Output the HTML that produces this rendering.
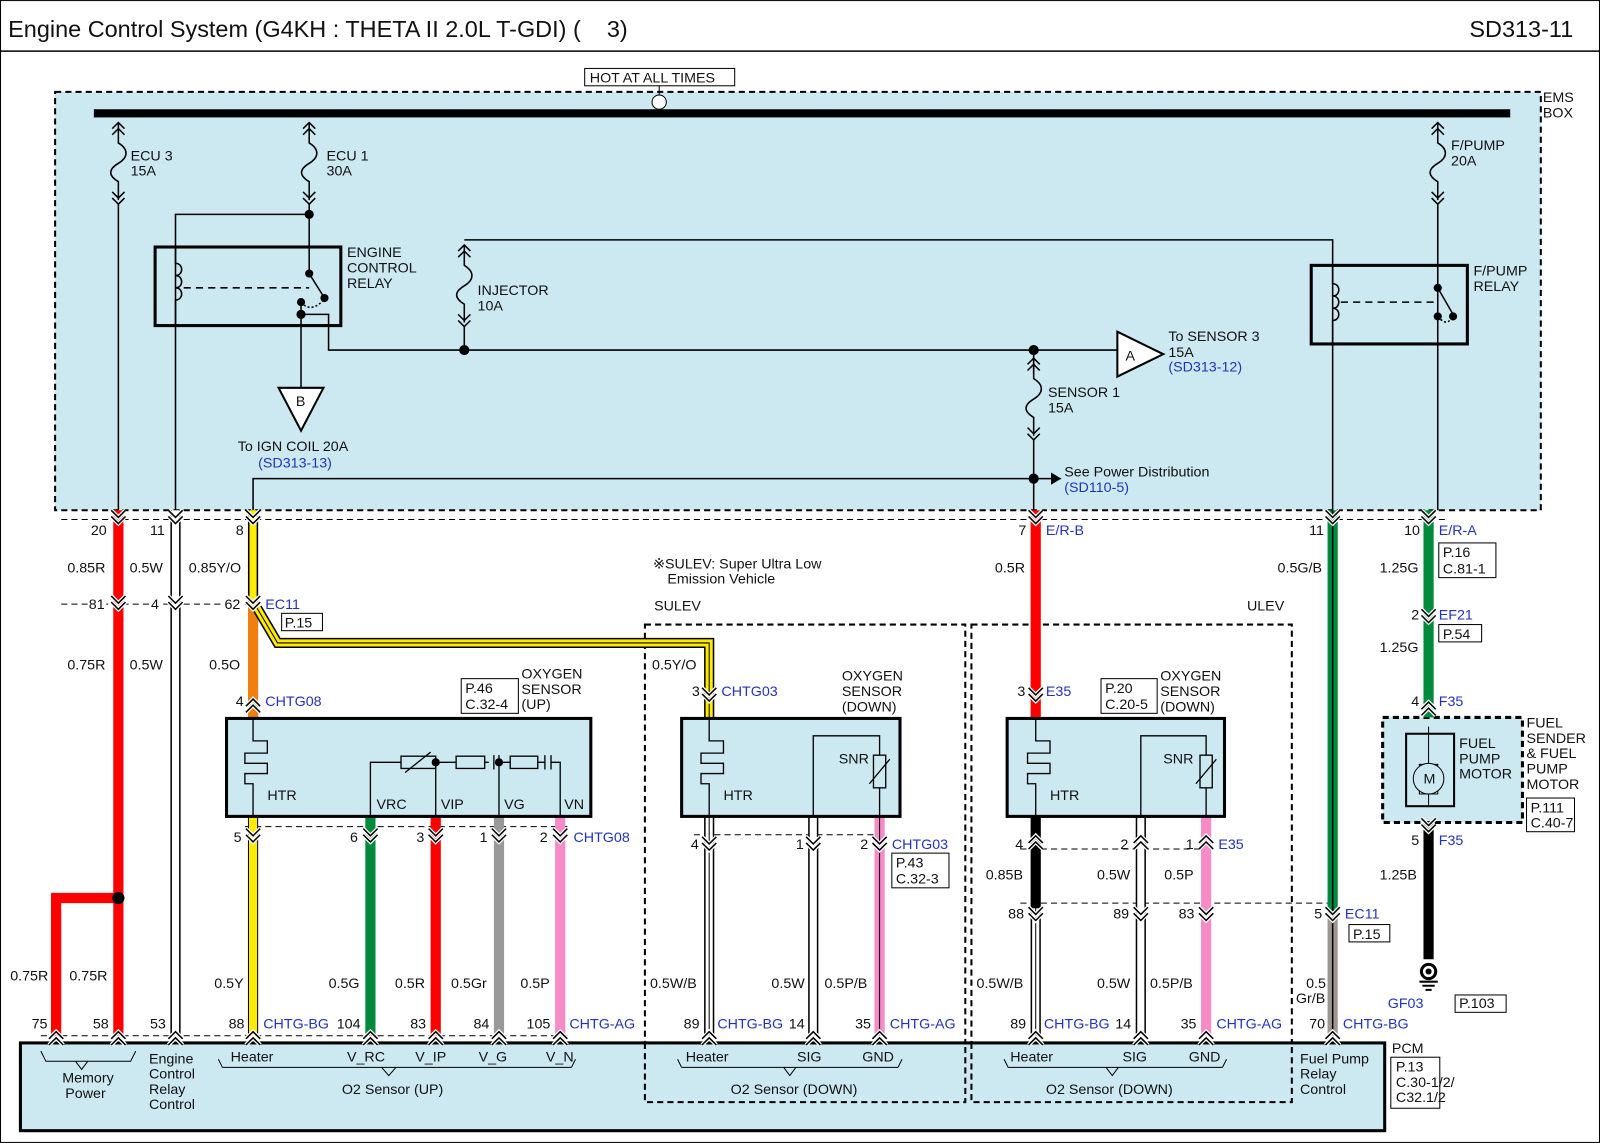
<!DOCTYPE html>
<html><head><meta charset="utf-8"><style>
html,body{margin:0;padding:0;background:#fff}
svg{display:block}
text{font-family:"Liberation Sans",sans-serif;font-size:14px;fill:#111}
.b{fill:#2233bb}
.t{font-size:23px}
</style></head><body>
<svg width="1600" height="1143" viewBox="0 0 1568 1120" xmlns="http://www.w3.org/2000/svg">
<defs>
<g id="pv"><path d="M-7,-6 L0,1 L7,-6 M-7,0 L0,7 L7,0" fill="none" stroke="#fff" stroke-width="4"/><path d="M-7,-6 L0,1 L7,-6 M-7,0 L0,7 L7,0" fill="none" stroke="#000" stroke-width="1.5"/></g>
<g id="pu"><path d="M-7,6 L0,-1 L7,6 M-7,0 L0,-7 L7,0" fill="none" stroke="#fff" stroke-width="4"/><path d="M-7,6 L0,-1 L7,6 M-7,0 L0,-7 L7,0" fill="none" stroke="#000" stroke-width="1.5"/></g>
<g id="fuse" fill="none" stroke="#000" stroke-width="1.5"><path d="M-6,12 L0,6 L6,12 M-6,18 L0,12 L6,18 M0,6 V26 C10,32 10,40 0,46 C-10,52 -10,58 0,64 V82 M-6,74 L0,80 L6,74 M-6,80 L0,86 L6,80"/></g>
</defs>
<rect x="0.5" y="0.5" width="1567" height="1119" fill="#fff" stroke="#000"/>
<line x1="0" y1="50" x2="1568" y2="50" stroke="#000" stroke-width="1.5"/>
<text x="8" y="36" class="t" xml:space="preserve">Engine Control System (G4KH : THETA II 2.0L T-GDI) (    3)</text>
<text x="1440" y="36" class="t">SD313-11</text>

<rect x="54" y="90" width="1456" height="410" fill="#cce8f1" stroke="#000" stroke-width="2" stroke-dasharray="6,4"/>
<text x="1512" y="100">EMS</text><text x="1512" y="115">BOX</text>
<rect x="573" y="67" width="147" height="17" fill="#fff" stroke="#000"/>
<text x="578" y="81">HOT AT ALL TIMES</text>
<line x1="646" y1="84" x2="646" y2="111" stroke="#000"/>
<rect x="92" y="107" width="1388" height="8" fill="#000"/>
<circle cx="646" cy="100" r="7" fill="#fff" stroke="#000"/>

<g stroke="#000" stroke-width="1.5" fill="none">
<line x1="116" y1="200" x2="116" y2="500"/>
<line x1="303" y1="200" x2="303" y2="268"/>
<path d="M303,210 H172 V500"/>
<path d="M295,296 V380"/>
<path d="M295,308 H322 V343 H1095"/>
<path d="M455,343 V320"/>
<path d="M455,235 H1306 V500"/>
<path d="M1013,343 V366"/>
<line x1="1013" y1="430" x2="1013" y2="500"/>
<path d="M248,500 V469 H1030"/>
<line x1="1409" y1="200" x2="1409" y2="500"/>
<rect x="152" y="242" width="182" height="77" stroke-width="3"/>
<path d="M172,242 V258 c8,0 8,12 0,12 c8,0 8,12 0,12 c8,0 8,12 0,12 V319"/>
<path d="M180,282 H303" stroke-dasharray="7,5"/>
<path d="M303,268 L318,292"/>
<path d="M295,296 q10,12 24,-4" stroke-dasharray="2,2"/>
<rect x="1285" y="260" width="153" height="77" stroke-width="3"/>
<path d="M1306,260 V278 c8,0 8,12 0,12 c8,0 8,12 0,12 c8,0 8,12 0,12 V337"/>
<path d="M1314,296 H1409" stroke-dasharray="7,5"/>
<path d="M1409,200 V282 L1424,308"/>
<path d="M1409,310 q10,12 15,-2" stroke-dasharray="2,2"/>
</g>
<g fill="#000">
<circle cx="303" cy="210" r="4.5"/><circle cx="303" cy="268" r="4"/><circle cx="318" cy="292" r="4"/><circle cx="295" cy="296" r="4"/><circle cx="295" cy="308" r="4.5"/>
<circle cx="455" cy="343" r="5"/><circle cx="1013" cy="343" r="5"/><circle cx="1013" cy="469" r="5"/>
<circle cx="1409" cy="282" r="4"/><circle cx="1424" cy="310" r="4"/><circle cx="1409" cy="310" r="4"/>
</g>
<path d="M1030,469 l10,0" stroke="#000"/><path d="M1030,463 L1040,469 L1030,475Z" fill="#000"/>
<use href="#fuse" x="116" y="114"/><use href="#fuse" x="303" y="114"/><use href="#fuse" x="1409" y="114"/>
<use href="#fuse" x="455" y="234"/><use href="#fuse" x="1013" y="345"/>
<text x="128" y="157">ECU 3</text><text x="128" y="172">15A</text>
<text x="320" y="157">ECU 1</text><text x="320" y="172">30A</text>
<text x="1422" y="147">F/PUMP</text><text x="1422" y="162">20A</text>
<text x="468" y="289">INJECTOR</text><text x="468" y="304">10A</text>
<text x="1027" y="389">SENSOR 1</text><text x="1027" y="404">15A</text>
<text x="340" y="252">ENGINE</text><text x="340" y="267">CONTROL</text><text x="340" y="282">RELAY</text>
<text x="1444" y="270">F/PUMP</text><text x="1444" y="285">RELAY</text>
<path d="M1095,325 L1140,347 L1095,369Z" fill="#fff" stroke="#000" stroke-width="2"/><text x="1103" y="353">A</text>
<text x="1145" y="334">To SENSOR 3</text><text x="1145" y="350">15A</text><text x="1145" y="364" class="b">(SD313-12)</text>
<path d="M273,380 L317,380 L295,422Z" fill="#fff" stroke="#000" stroke-width="2"/><text x="290" y="398">B</text>
<text x="233" y="442">To IGN COIL 20A</text><text x="253" y="458" class="b">(SD313-13)</text>
<text x="1043" y="467">See Power Distribution</text><text x="1043" y="482" class="b">(SD110-5)</text>

<g stroke="#000" stroke-width="1" stroke-dasharray="6,4" fill="none">
<line x1="60" y1="509" x2="1420" y2="509"/>
<line x1="60" y1="592" x2="250" y2="592"/>
<line x1="240" y1="810" x2="560" y2="810"/>
<line x1="680" y1="818" x2="870" y2="818"/>
<line x1="1000" y1="832" x2="1190" y2="832"/>
<line x1="1000" y1="885" x2="1310" y2="885"/>
<line x1="40" y1="1015" x2="560" y2="1015"/>
<rect x="632" y="612" width="314" height="468" stroke-width="2"/>
<rect x="952" y="612" width="314" height="468" stroke-width="2"/>
<rect x="1355" y="703" width="137" height="103" fill="#cce8f1" stroke-width="3"/>
</g>

<g fill="none" stroke-linejoin="miter">
<path d="M116,500 V1015 M116,880 H55 V1015" stroke="#f00" stroke-width="10"/>
<path d="M172,500 V1015" stroke="#000" stroke-width="10"/><path d="M172,500 V1015" stroke="#fff" stroke-width="7"/>
<path d="M248,500 V592" stroke="#000" stroke-width="10"/><path d="M248,500 V592" stroke="#ffeb00" stroke-width="7"/>
<path d="M248,592 V704" stroke="#f07f0f" stroke-width="10"/>
<path d="M252,596 L272,630 H695 V704" stroke="#000" stroke-width="10"/><path d="M252,596 L272,630 H695 V704" stroke="#ffeb00" stroke-width="7"/><path d="M252,596 L272,630 H695 V704" stroke="#000" stroke-width="1"/>
<path d="M248,800 V1015" stroke="#000" stroke-width="10"/><path d="M248,800 V1015" stroke="#ffeb00" stroke-width="8"/>
<path d="M363,800 V1015" stroke="#008a3c" stroke-width="10"/>
<path d="M427,800 V1015" stroke="#f00" stroke-width="10"/>
<path d="M489,800 V1015" stroke="#999" stroke-width="10"/>
<path d="M549,800 V1015" stroke="#f58cc8" stroke-width="10"/>
<path d="M695,800 V1015 M797,800 V1015 M1118,800 V1015 M1015,890 V1015" stroke="#000" stroke-width="10"/>
<path d="M695,800 V1015 M797,800 V1015 M1118,800 V1015 M1015,890 V1015" stroke="#fff" stroke-width="7"/>
<path d="M695,800 V1015 M1015,890 V1015" stroke="#000" stroke-width="1"/>
<path d="M862,800 V1015 M1182,800 V1015" stroke="#f58cc8" stroke-width="10"/>
<path d="M862,800 V1015" stroke="#000" stroke-width="1"/>
<path d="M1015,500 V704" stroke="#f00" stroke-width="10"/>
<path d="M1015,800 V890" stroke="#000" stroke-width="10"/>
<path d="M1306,500 V895" stroke="#008a3c" stroke-width="10"/><path d="M1306,500 V895" stroke="#000" stroke-width="1.5"/>
<path d="M1306,895 V1015" stroke="#a09890" stroke-width="10"/><path d="M1306,895 V1015" stroke="#000" stroke-width="1.5"/>
<path d="M1400,500 V703" stroke="#008a3c" stroke-width="10"/>
<path d="M1400,806 V940" stroke="#000" stroke-width="10"/>
</g>
<circle cx="116" cy="880" r="6" fill="#000"/>
<circle cx="1400" cy="952" r="7" fill="#fff" stroke="#000" stroke-width="3"/><circle cx="1400" cy="952" r="3" fill="#000"/>
<path d="M1391,962 H1409 M1394,966 H1406 M1397,970 H1403" stroke="#000" stroke-width="2"/>
<text x="1360" y="988" class="b">GF03</text><rect x="1426" y="975" width="50" height="17" fill="#fff" stroke="#000"/><text x="1430" y="988">P.103</text>

<g stroke="#000" fill="#cce8f1" stroke-width="3">
<rect x="222" y="704" width="357" height="96"/>
<rect x="668" y="704" width="214" height="96"/>
<rect x="987" y="704" width="213" height="96"/>
</g>
<g stroke="#000" stroke-width="1.3" fill="none">
<path d="M248,704 V726 H262 V738 H240 V748 H262 V758 H240 V768 H248 V800"/>
<path d="M695,704 V726 H709 V738 H687 V748 H709 V758 H687 V768 H695 V800"/>
<path d="M1015,704 V726 H1029 V738 H1007 V748 H1029 V758 H1007 V768 H1015 V800"/>
<path d="M363,800 V747 H393 M427,747 H447 M427,747 V800 M475,747 H479 M484,740 V754 M489,740 V754 M489,747 V800 M489,747 H500 M527,747 H534 M534,740 V754 M540,740 V754 M540,747 H549 V800"/>
<rect x="393" y="741" width="34" height="12"/><rect x="447" y="741" width="28" height="12"/><rect x="500" y="741" width="27" height="12"/>
<path d="M397,757 L422,737"/>
<path d="M797,800 V721 H862 V740 M862,772 V800"/><rect x="856" y="740" width="12" height="32"/><path d="M852,768 L872,744"/>
<path d="M1118,800 V721 H1182 V740 M1182,772 V800"/><rect x="1176" y="740" width="12" height="32"/><path d="M1172,768 L1192,744"/>
</g>
<circle cx="427" cy="747" r="4" fill="#000"/><circle cx="489" cy="747" r="4" fill="#000"/>
<text x="262" y="784">HTR</text><text x="369" y="793">VRC</text><text x="432" y="793">VIP</text><text x="494" y="793">VG</text><text x="553" y="793">VN</text>
<text x="709" y="784">HTR</text><text x="822" y="748">SNR</text>
<text x="1029" y="784">HTR</text><text x="1140" y="748">SNR</text>
<rect x="1378" y="719" width="47" height="71" fill="none" stroke="#000" stroke-width="2"/>
<path d="M1400,712 V790" stroke="#000"/><rect x="1391" y="749" width="18" height="29" fill="#fff" stroke="#000"/>
<circle cx="1400" cy="763" r="15" fill="#cce8f1" stroke="#000"/><text x="1395" y="768">M</text>
<text x="1430" y="733">FUEL</text><text x="1430" y="748">PUMP</text><text x="1430" y="763">MOTOR</text>
<text x="1496" y="713">FUEL</text><text x="1496" y="728">SENDER</text><text x="1496" y="743">&amp; FUEL</text><text x="1496" y="758">PUMP</text><text x="1496" y="773">MOTOR</text>
<rect x="1496" y="782" width="47" height="33" fill="#fff" stroke="#000"/><text x="1500" y="796">P.111</text><text x="1500" y="811">C.40-7</text>

<rect x="20" y="1022" width="1337" height="86" fill="#cce8f1" stroke="#000" stroke-width="3"/>
<g stroke="#000" stroke-dasharray="6,4" stroke-width="2" fill="none"><path d="M632,1022 V1080 H946 V1022 M952,1022 V1080 H1266 V1022"/></g>
<g stroke="#000" fill="none" stroke-width="1"><path d="M40,1030 l5,10 H128 l5,-10 M86,1040 l-6,8 -6,-8 M218,1046 H560 M218,1046 l-4,-8 M560,1046 l4,-8 M388,1046 l-7,8 -7,-8 M668,1046 H880 M668,1046 l-4,-8 M880,1046 l4,-8 M780,1046 l-6,8 -6,-8 M988,1046 H1198 M988,1046 l-4,-8 M1198,1046 l4,-8 M1096,1046 l-6,8 -6,-8"/></g>
<text x="61" y="1061">Memory</text><text x="64" y="1076">Power</text>
<text x="146" y="1042">Engine</text><text x="146" y="1057">Control</text><text x="146" y="1072">Relay</text><text x="146" y="1087">Control</text>
<text x="226" y="1040">Heater</text><text x="340" y="1040">V_RC</text><text x="407" y="1040">V_IP</text><text x="469" y="1040">V_G</text><text x="535" y="1040">V_N</text>
<text x="335" y="1072">O2 Sensor (UP)</text>
<text x="672" y="1040">Heater</text><text x="781" y="1040">SIG</text><text x="845" y="1040">GND</text><text x="716" y="1072">O2 Sensor (DOWN)</text>
<text x="990" y="1040">Heater</text><text x="1100" y="1040">SIG</text><text x="1165" y="1040">GND</text><text x="1025" y="1072">O2 Sensor (DOWN)</text>
<text x="1274" y="1042">Fuel Pump</text><text x="1274" y="1057">Relay</text><text x="1274" y="1072">Control</text>
<text x="1364" y="1032">PCM</text>
<rect x="1363" y="1036" width="48" height="50" fill="#fff" stroke="#000"/><text x="1368" y="1050">P.13</text><text x="1368" y="1065">C.30-1/2/</text><text x="1368" y="1080">C32.1/2</text>

<use href="#pv" x="116" y="506"/><use href="#pv" x="172" y="506"/><use href="#pv" x="248" y="506"/><use href="#pv" x="1015" y="506"/><use href="#pv" x="1306" y="506"/><use href="#pv" x="1400" y="506"/>
<use href="#pv" x="116" y="590"/><use href="#pv" x="172" y="590"/><use href="#pv" x="248" y="590"/>
<use href="#pu" x="248" y="692"/><use href="#pv" x="695" y="680"/><use href="#pv" x="1015" y="680"/><use href="#pv" x="1400" y="603"/><use href="#pu" x="1400" y="695"/><use href="#pv" x="1400" y="808"/>
<use href="#pv" x="248" y="818"/><use href="#pv" x="363" y="818"/><use href="#pv" x="427" y="818"/><use href="#pv" x="489" y="818"/><use href="#pv" x="549" y="818"/>
<use href="#pv" x="695" y="826"/><use href="#pv" x="797" y="826"/><use href="#pv" x="862" y="826"/>
<use href="#pu" x="1015" y="826"/><use href="#pu" x="1118" y="826"/><use href="#pu" x="1182" y="826"/>
<use href="#pv" x="1015" y="895"/><use href="#pv" x="1118" y="895"/><use href="#pv" x="1182" y="895"/><use href="#pv" x="1306" y="895"/>
<use href="#pu" x="55" y="1018"/><use href="#pu" x="116" y="1018"/><use href="#pu" x="172" y="1018"/><use href="#pu" x="248" y="1018"/><use href="#pu" x="363" y="1018"/><use href="#pu" x="427" y="1018"/><use href="#pu" x="489" y="1018"/><use href="#pu" x="549" y="1018"/><use href="#pu" x="695" y="1018"/><use href="#pu" x="797" y="1018"/><use href="#pu" x="862" y="1018"/><use href="#pu" x="1015" y="1018"/><use href="#pu" x="1118" y="1018"/><use href="#pu" x="1182" y="1018"/><use href="#pu" x="1306" y="1018"/>

<text x="89" y="524">20</text><text x="147" y="524">11</text><text x="231" y="524">8</text><text x="998" y="524">7</text><text x="1025" y="524" class="b">E/R-B</text><text x="1283" y="524">11</text><text x="1376" y="524">10</text><text x="1410" y="524" class="b">E/R-A</text>
<text x="66" y="561">0.85R</text><text x="127" y="561">0.5W</text><text x="185" y="561">0.85Y/O</text><text x="975" y="561">0.5R</text><text x="1252" y="561">0.5G/B</text><text x="1352" y="561">1.25G</text>
<rect x="1410" y="532" width="56" height="34" fill="#fff" stroke="#000"/><text x="1414" y="546">P.16</text><text x="1414" y="562">C.81-1</text>
<text x="640" y="557">※SULEV: Super Ultra Low</text><text x="654" y="572">Emission Vehicle</text>
<text x="641" y="598">SULEV</text><text x="1222" y="598">ULEV</text>
<g><rect x="86" y="586" width="18" height="14" fill="#fff"/><rect x="146" y="586" width="12" height="14" fill="#fff"/><rect x="220" y="586" width="18" height="14" fill="#fff"/></g>
<text x="87" y="597">81</text><text x="148" y="597">4</text><text x="220" y="597">62</text><text x="260" y="597" class="b">EC11</text>
<rect x="276" y="601" width="40" height="17" fill="#fff" stroke="#000"/><text x="279" y="615">P.15</text>
<text x="1383" y="607">2</text><text x="1410" y="607" class="b">EF21</text><rect x="1410" y="612" width="42" height="17" fill="#fff" stroke="#000"/><text x="1414" y="626">P.54</text>
<text x="66" y="656">0.75R</text><text x="127" y="656">0.5W</text><text x="205" y="656">0.5O</text><text x="639" y="656">0.5Y/O</text><text x="1352" y="639">1.25G</text>
<text x="231" y="692">4</text><text x="260" y="692" class="b">CHTG08</text><text x="678" y="682">3</text><text x="707" y="682" class="b">CHTG03</text><text x="997" y="682">3</text><text x="1025" y="682" class="b">E35</text>
<text x="1383" y="692">4</text><text x="1410" y="692" class="b">F35</text>
<rect x="452" y="665" width="56" height="34" fill="#fff" stroke="#000"/><text x="456" y="679">P.46</text><text x="456" y="695">C.32-4</text>
<text x="511" y="665">OXYGEN</text><text x="511" y="680">SENSOR</text><text x="511" y="695">(UP)</text>
<text x="825" y="667">OXYGEN</text><text x="825" y="682">SENSOR</text><text x="825" y="697">(DOWN)</text>
<rect x="1079" y="665" width="55" height="34" fill="#fff" stroke="#000"/><text x="1083" y="679">P.20</text><text x="1083" y="695">C.20-5</text>
<text x="1137" y="667">OXYGEN</text><text x="1137" y="682">SENSOR</text><text x="1137" y="697">(DOWN)</text>
<text x="229" y="825">5</text><text x="343" y="825">6</text><text x="408" y="825">3</text><text x="470" y="825">1</text><text x="529" y="825">2</text><text x="562" y="825" class="b">CHTG08</text>
<text x="677" y="832">4</text><text x="780" y="832">1</text><text x="843" y="832">2</text><text x="874" y="832" class="b">CHTG03</text>
<rect x="874" y="836" width="56" height="34" fill="#fff" stroke="#000"/><text x="878" y="850">P.43</text><text x="878" y="866">C.32-3</text>
<text x="995" y="832">4</text><text x="1098" y="832">2</text><text x="1162" y="832">1</text><text x="1194" y="832" class="b">E35</text>
<text x="1383" y="828">5</text><text x="1410" y="828" class="b">F35</text>
<text x="966" y="862">0.85B</text><text x="1075" y="862">0.5W</text><text x="1141" y="862">0.5P</text><text x="1352" y="862">1.25B</text>
<text x="988" y="900">88</text><text x="1091" y="900">89</text><text x="1155" y="900">83</text><text x="1288" y="900">5</text><text x="1318" y="900" class="b">EC11</text>
<rect x="1322" y="906" width="40" height="17" fill="#fff" stroke="#000"/><text x="1326" y="920">P.15</text>
<text x="10" y="961">0.75R</text><text x="68" y="961">0.75R</text><text x="210" y="968">0.5Y</text><text x="322" y="968">0.5G</text><text x="387" y="968">0.5R</text><text x="442" y="968">0.5Gr</text><text x="510" y="968">0.5P</text>
<text x="637" y="968">0.5W/B</text><text x="756" y="968">0.5W</text><text x="808" y="968">0.5P/B</text>
<text x="957" y="968">0.5W/B</text><text x="1075" y="968">0.5W</text><text x="1127" y="968">0.5P/B</text>
<text x="1280" y="968">0.5</text><text x="1270" y="983">Gr/B</text>
<text x="31" y="1008">75</text><text x="91" y="1008">58</text><text x="147" y="1008">53</text><text x="224" y="1008">88</text><text x="258" y="1008" class="b">CHTG-BG</text><text x="330" y="1008">104</text><text x="402" y="1008">83</text><text x="464" y="1008">84</text><text x="516" y="1008">105</text><text x="558" y="1008" class="b">CHTG-AG</text>
<text x="670" y="1008">89</text><text x="703" y="1008" class="b">CHTG-BG</text><text x="773" y="1008">14</text><text x="838" y="1008">35</text><text x="872" y="1008" class="b">CHTG-AG</text>
<text x="990" y="1008">89</text><text x="1023" y="1008" class="b">CHTG-BG</text><text x="1093" y="1008">14</text><text x="1157" y="1008">35</text><text x="1192" y="1008" class="b">CHTG-AG</text>
<text x="1283" y="1008">70</text><text x="1316" y="1008" class="b">CHTG-BG</text>
</svg>
</body></html>
